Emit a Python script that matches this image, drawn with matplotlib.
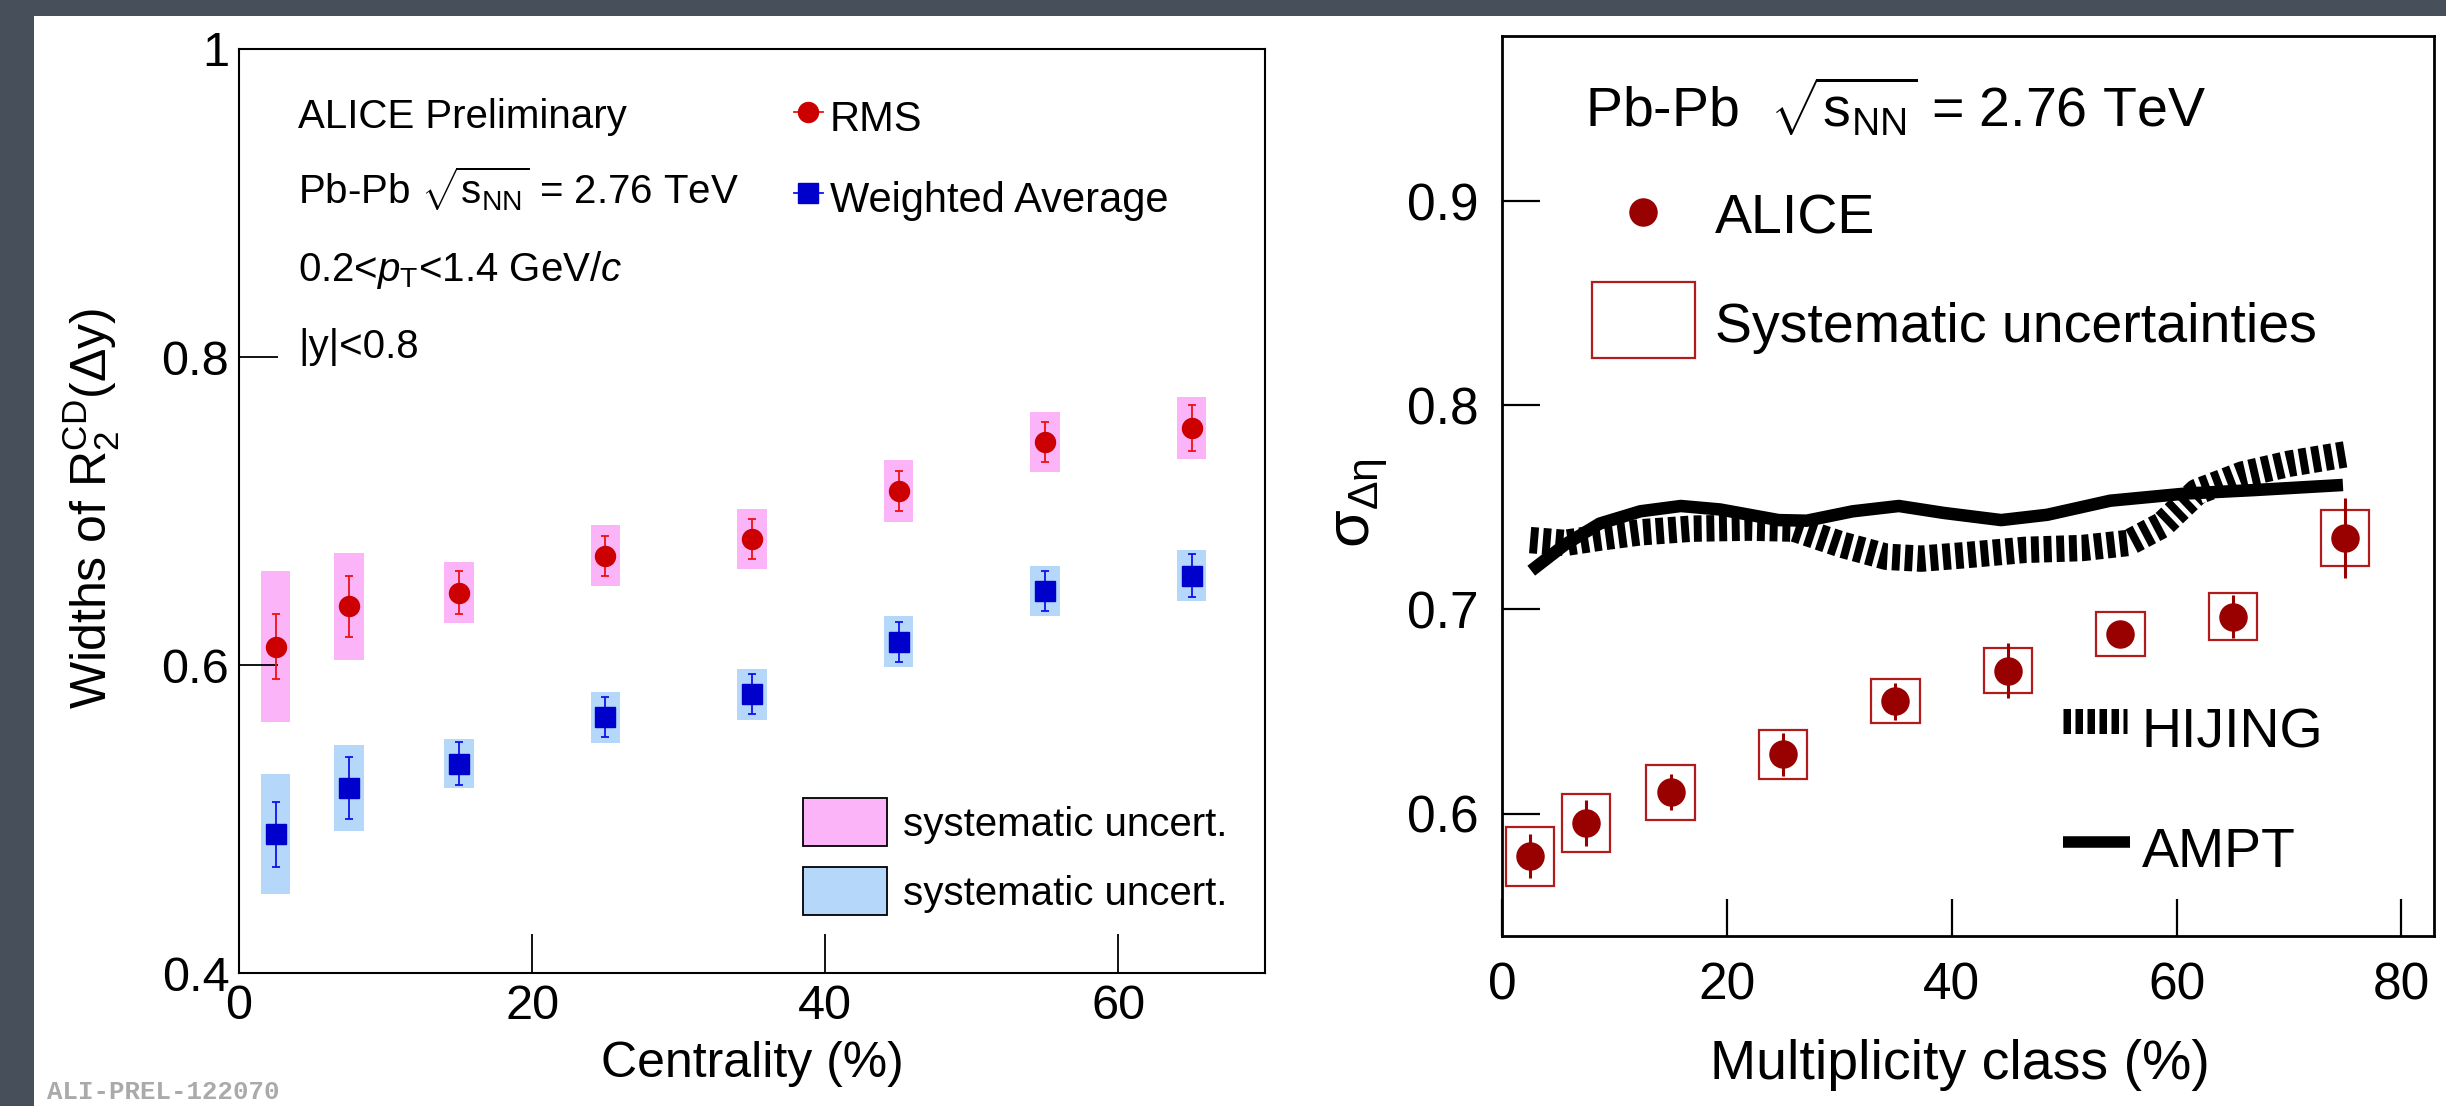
import numpy as np
import matplotlib
matplotlib.use("Agg")
import matplotlib.pyplot as plt
from matplotlib.transforms import Affine2D
from matplotlib.lines import Line2D
from matplotlib.patches import Rectangle

plt.rcParams['font.family'] = ['Liberation Sans', 'DejaVu Sans']
plt.rcParams['mathtext.fontset'] = 'custom'
plt.rcParams['mathtext.rm'] = 'Liberation Sans'
plt.rcParams['mathtext.it'] = 'Liberation Sans:italic'
plt.rcParams['mathtext.sf'] = 'Liberation Sans'

W, H = 2446, 1106

# left panel: widths of R2^CD vs centrality
cent = [2.5, 7.5, 15, 25, 35, 45, 55, 65]
rms = [0.612, 0.638, 0.647, 0.671, 0.682, 0.713, 0.745, 0.754]
rms_stat = [0.021, 0.020, 0.014, 0.013, 0.013, 0.013, 0.013, 0.015]
rms_sys = [0.049, 0.035, 0.020, 0.020, 0.0195, 0.020, 0.0195, 0.020]
wavg = [0.490, 0.520, 0.536, 0.566, 0.581, 0.615, 0.648, 0.658]
wavg_stat = [0.021, 0.020, 0.014, 0.013, 0.013, 0.013, 0.013, 0.014]
wavg_sys = [0.039, 0.028, 0.016, 0.0165, 0.0167, 0.0165, 0.016, 0.0165]

# right panel: sigma_deta vs multiplicity class
mult = [2.5, 7.5, 15, 25, 35, 45, 55, 65, 75]
alice = [0.579, 0.5955, 0.6105, 0.629, 0.655, 0.670, 0.688, 0.6965, 0.735]
alice_stat = [0.0108, 0.0113, 0.009, 0.0107, 0.009, 0.0135, 0.005, 0.0107, 0.0197]
alice_sys = [0.0145, 0.0142, 0.0135, 0.012, 0.0107, 0.011, 0.0107, 0.0114, 0.0135]

hijing_x = [2.5, 5.6, 8.7, 12.3, 16.9, 22.0, 26.0, 30.2, 34.2, 37.3, 41.4, 46.5,
            51.6, 55.7, 58.7, 61.8, 65.9, 70.0, 75.0]
hijing_y = [0.734, 0.7326, 0.7352, 0.7378, 0.7396, 0.7401, 0.7396, 0.7318, 0.7258,
            0.7249, 0.7267, 0.7292, 0.7301, 0.7326, 0.7413, 0.7576, 0.7662, 0.7714, 0.776]
ampt_x = [2.6, 5.6, 8.7, 12.3, 15.9, 19.4, 24.6, 27.1, 31.2, 35.3, 39.3, 44.4,
          48.5, 54.1, 60.8, 66.9, 74.8]
ampt_y = [0.719, 0.7318, 0.7421, 0.7481, 0.7507, 0.749, 0.7438, 0.7435, 0.7481,
          0.7507, 0.7473, 0.7438, 0.7464, 0.7533, 0.7568, 0.7585, 0.761]

fig = plt.figure(figsize=(W / 100, H / 100), dpi=100, facecolor='#47505a')
fig.add_artist(Rectangle((34 / W, 0), (W - 34) / W, 1 - 16 / H, transform=fig.transFigure,
                         facecolor='white', edgecolor='none', zorder=0))
# pixel coords from top-left corner
px = Affine2D().scale(1 / W, -1 / H).translate(0, 1) + fig.transFigure

# ---------- left panel ----------
ax1 = fig.add_axes([239 / W, 1 - 973 / H, (1265 - 239) / W, (973 - 49) / H])
pink, lblue = '#fbb4f7', '#b4d7fa'
ax1.bar(cent, [2 * s for s in rms_sys], bottom=[v - s for v, s in zip(rms, rms_sys)],
        width=2.0, color=pink, edgecolor='none', zorder=1)
ax1.bar(cent, [2 * s for s in wavg_sys], bottom=[v - s for v, s in zip(wavg, wavg_sys)],
        width=2.0, color=lblue, edgecolor='none', zorder=1)
ax1.errorbar(cent, rms, yerr=rms_stat, fmt='o', color='#cc0000', ecolor='#ee1111',
             ms=14.4, elinewidth=1.3, capsize=2.6, capthick=1.3, zorder=3)
ax1.errorbar(cent, wavg, yerr=wavg_stat, fmt='s', color='#0000cc', ecolor='#1111ee',
             ms=15, elinewidth=1.3, capsize=2.6, capthick=1.3, zorder=3)
ax1.set_xlim(0, 70)
ax1.set_ylim(0.4, 1.0)
ax1.set_xticks([0, 20, 40, 60])
ax1.set_xticklabels(['0', '20', '40', '60'])
ax1.set_yticks([0.4, 0.6, 0.8, 1.0])
ax1.set_yticklabels(['0.4', '0.6', '0.8', '1'])
ax1.tick_params(direction='in', length=28, width=1.3, labelsize=35)
ax1.tick_params(axis='x', pad=8)
ax1.tick_params(axis='y', pad=7)
for s in ax1.spines.values():
    s.set_linewidth(1.5)

fig.text(91 / W, 1 - 508 / H, r'Widths of R$_{2}^{\rm CD}$(Δy)', rotation=90,
         ha='center', va='center', fontsize=36)
fig.text(752 / W, 1 - 1077 / H, 'Centrality (%)', ha='center', va='baseline', fontsize=36)

fs = 29
fig.text(298 / W, 1 - 128 / H, 'ALICE Preliminary', fontsize=fs, va='baseline')
fig.text(298 / W, 1 - 204 / H, r'Pb-Pb $\sqrt{{\rm s}_{\rm NN}}$ = 2.76 TeV', fontsize=fs, va='baseline')
fig.text(298 / W, 1 - 281 / H, r'0.2<$p_{\rm T}$<1.4 GeV/$c$', fontsize=fs, va='baseline')
fig.text(298 / W, 1 - 358 / H, '|y|<0.8', fontsize=fs, va='baseline')

fig.add_artist(Line2D([794, 823], [112, 112], transform=px, color='#ee1111', lw=1.3))
fig.add_artist(Line2D([808], [112], transform=px, marker='o', ms=14.4, color='#cc0000'))
fig.add_artist(Line2D([794, 823], [193, 193], transform=px, color='#1111ee', lw=1.3))
fig.add_artist(Line2D([808], [193], transform=px, marker='s', ms=15, color='#0000cc'))
fig.text(830 / W, 1 - 131 / H, 'RMS', fontsize=30, va='baseline')
fig.text(830 / W, 1 - 212 / H, 'Weighted Average', fontsize=30, va='baseline')

fig.add_artist(Rectangle((803, 846), 84, -48, transform=px, facecolor=pink,
                         edgecolor='black', lw=1.3))
fig.add_artist(Rectangle((803, 915), 84, -48, transform=px, facecolor=lblue,
                         edgecolor='black', lw=1.3))
fig.text(903 / W, 1 - 836 / H, 'systematic uncert.', fontsize=29, va='baseline')
fig.text(903 / W, 1 - 905 / H, 'systematic uncert.', fontsize=29, va='baseline')

fig.text(47 / W, 1 - 1099 / H, 'ALI-PREL-122070', fontsize=18.5, va='baseline',
         family='Liberation Mono', weight='bold', color='#aaaaaa')

# ---------- right panel ----------
ax2 = fig.add_axes([1502 / W, 1 - 936 / H, (2434 - 1502) / W, (936 - 36) / H])
dred = '#990000'
ax2.plot(hijing_x, hijing_y, color='black', lw=19, dashes=(0.3, 0.18),
         solid_joinstyle='round', zorder=2)
ax2.plot(ampt_x, ampt_y, color='black', lw=9, solid_capstyle='butt',
         solid_joinstyle='round', zorder=2)
ax2.bar(mult, [2 * s for s in alice_sys], bottom=[v - s for v, s in zip(alice, alice_sys)],
        width=4.3, fill=False, edgecolor='#b01c1c', lw=1.6, zorder=3)
ax2.errorbar(mult, alice, yerr=alice_stat, fmt='o', color=dred, ms=19.5,
             elinewidth=2.2, capsize=0, zorder=4)
ax2.set_xlim(0, 82.9)
ax2.set_ylim(0.54, 0.981)
ax2.set_xticks([0, 20, 40, 60, 80])
ax2.set_xticklabels(['0', '20', '40', '60', '80'])
ax2.set_yticks([0.6, 0.7, 0.8, 0.9])
ax2.set_yticklabels(['0.6', '0.7', '0.8', '0.9'])
ax2.tick_params(direction='in', length=27, width=1.6, labelsize=37)
ax2.tick_params(axis='x', pad=18)
ax2.tick_params(axis='y', pad=17)
for s in ax2.spines.values():
    s.set_linewidth(2)

fig.text(1362 / W, 1 - 503 / H, r'σ$_{\rm Δη}$', rotation=90, ha='center', va='center',
         fontsize=44)
fig.text(1960 / W, 1 - 1079 / H, 'Multiplicity class (%)', ha='center', va='baseline',
         fontsize=40)
fig.text(1585 / W, 1 - 127 / H, r'Pb-Pb  $\sqrt{{\rm s}_{\rm NN}}$ = 2.76 TeV',
         fontsize=40, va='baseline')

fig.add_artist(Line2D([1643], [212], transform=px, marker='o', ms=19.5, color=dred))
fig.text(1715 / W, 1 - 233 / H, 'ALICE', fontsize=40, va='baseline')
fig.add_artist(Rectangle((1592, 358), 103, -76, transform=px, fill=False,
                         edgecolor='#b01c1c', lw=1.6))
fig.text(1715 / W, 1 - 342 / H, 'Systematic uncertainties', fontsize=40, va='baseline')
fig.add_artist(Line2D([2063, 2127], [721, 721], transform=px, color='black', lw=18,
                      dashes=(0.3, 0.18)))
fig.text(2142 / W, 1 - 747 / H, 'HIJING', fontsize=40, va='baseline')
fig.add_artist(Line2D([2063, 2130], [842, 842], transform=px, color='black', lw=8.3,
                      solid_capstyle='butt'))
fig.text(2142 / W, 1 - 867 / H, 'AMPT', fontsize=40, va='baseline')

fig.savefig('out.png', dpi=100, facecolor=fig.get_facecolor())
